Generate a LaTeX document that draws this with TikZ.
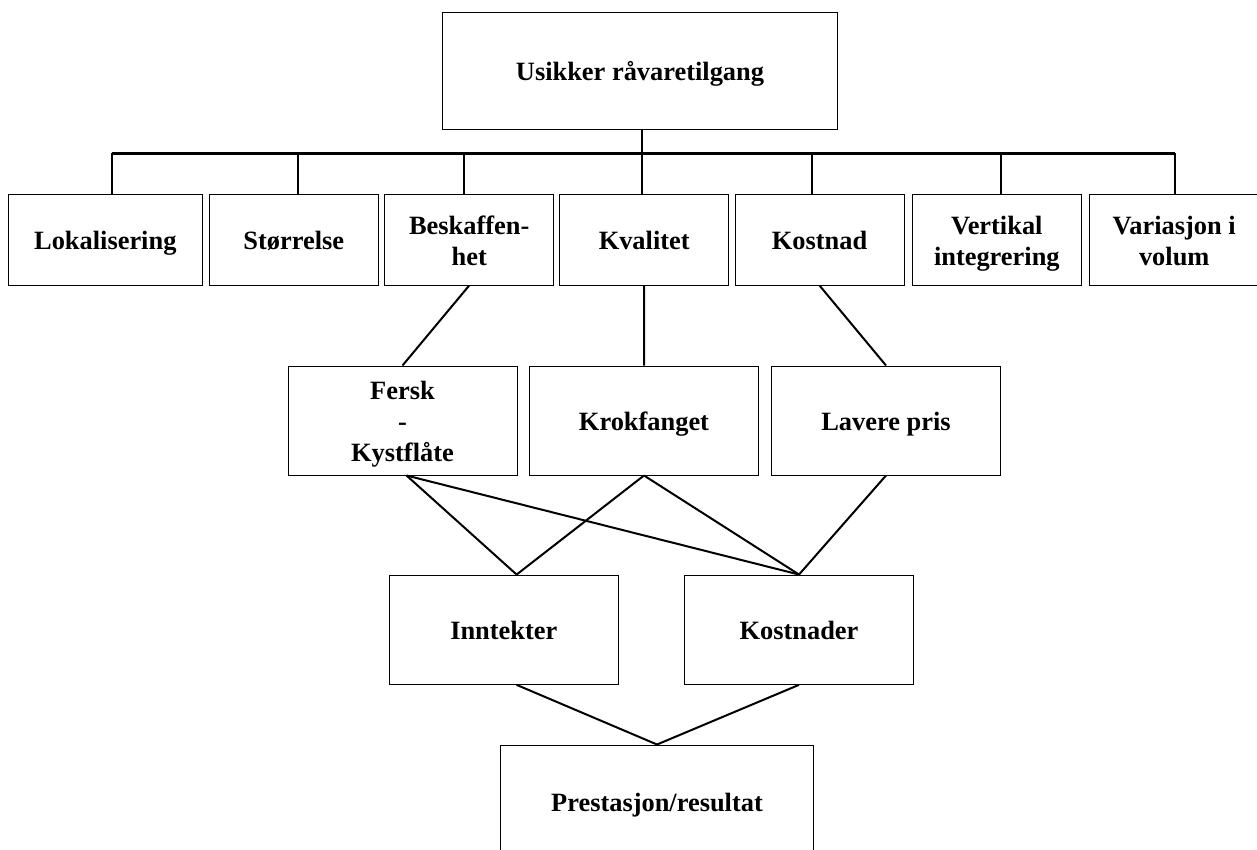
\documentclass[tikz,border=0pt]{standalone}
\usepackage{fontspec}
\setmainfont{Liberation Serif}
\newcommand\lnst{\rule[-5pt]{0pt}{30pt}}
\begin{document}
\begin{tikzpicture}[x=1pt,y=-1pt,
  box/.style={draw,line width=1pt,inner sep=0pt,align=center,
    font=\bfseries\fontsize{26.4}{31}\selectfont},
  rowbox/.style={box,minimum width=169pt,minimum height=90pt},
  midbox/.style={box,minimum width=229pt,minimum height=109pt},
  link/.style={line width=2pt},
  bar/.style={line width=2.6pt}]
\clip (0,0) rectangle (1257,850);
\fill[white] (0,0) rectangle (1257,850);
% top
\node[box,minimum width=395pt,minimum height=117pt] (top) at (640,70.7) {\lnst Usikker råvaretilgang};
% row 1
\node[rowbox,minimum width=194pt] (r1) at (105.3,240) {\lnst Lokalisering};
\node[rowbox] (r2) at (293.8,240) {\lnst Størrelse};
\node[rowbox] (r3) at (469.2,240) {\lnst Beskaffen-\\\lnst het};
\node[rowbox] (r4) at (644.2,240) {\lnst Kvalitet};
\node[rowbox] (r5) at (819.5,240) {\lnst Kostnad};
\node[rowbox] (r6) at (996.8,240) {\lnst Vertikal\\\lnst integrering};
\node[rowbox] (r7) at (1174.2,240) {\lnst Variasjon i\\\lnst volum};
% bar
\coordinate (b1) at (111.7,153.5);
\coordinate (b2) at (298.2,153.5);
\coordinate (b3) at (463.7,153.5);
\coordinate (b4) at (641.7,153.5);
\coordinate (b5) at (812.3,153.5);
\coordinate (b6) at (1000.8,153.5);
\coordinate (b7) at (1175,153.5);
\draw[link] (top.south -| b4) -- (b4);
\draw[bar] (b1) -- (b7);
\foreach \i in {1,...,7} {\draw[link] (b\i) -- (b\i |- r\i.north);}
% middle
\node[midbox] (fersk) at (402.5,420.5) {\lnst Fersk\\\lnst -\\\lnst Kystflåte};
\node[midbox] (krok) at (644,420.5) {\lnst Krokfanget};
\node[midbox] (lav) at (886,420.5) {\lnst Lavere pris};
\draw[link] (r3.south) -- (fersk.north);
\draw[link] (r4.south) -- (krok.north);
\draw[link] (r5.south) -- (lav.north);
% lower
\node[box,minimum width=229.4pt,minimum height=109.3pt] (inn) at (503.8,629.7) {\lnst Inntekter};
\node[box,minimum width=229.2pt,minimum height=109.3pt] (kost) at (799,629.7) {\lnst Kostnader};
\coordinate (innT) at ([xshift=12.8pt]inn.north);
\coordinate (innB) at ([xshift=12.8pt]inn.south);
\coordinate (ferskB) at ([xshift=4pt]fersk.south);
\draw[link] (ferskB) -- (innT);
\draw[link] (ferskB) -- (kost.north);
\draw[link] (krok.south) -- (innT);
\draw[link] (krok.south) -- (kost.north);
\draw[link] (lav.south) -- (kost.north);
% bottom
\node[box,minimum width=312.6pt,minimum height=113pt] (prest) at (657,801.5) {\lnst Prestasjon/resultat};
\draw[link] (innB) -- (prest.north);
\draw[link] (kost.south) -- (prest.north);
\end{tikzpicture}
\end{document}
